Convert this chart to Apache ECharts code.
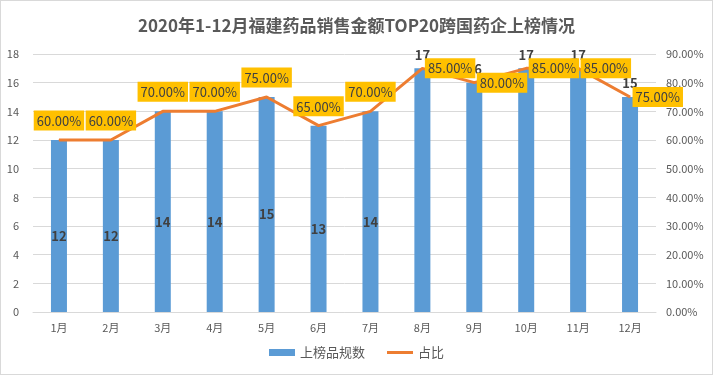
<!DOCTYPE html>
<html>
<head>
<meta charset="utf-8">
<script src="https://cdn.jsdelivr.net/npm/echarts@6/dist/echarts.min.js"></script>
<style>
  html, body { margin: 0; padding: 0; background: #fff; }
  #chart { width: 711px; height: 373px; border: 1px solid #d9d9d9; }
</style>
</head>
<body>
<div id="chart"></div>
<script>
// 数据
const months = ['1月', '2月', '3月', '4月', '5月', '6月', '7月', '8月', '9月', '10月', '11月', '12月']
const listedCounts = [12, 12, 14, 14, 15, 13, 14, 17, 16, 17, 17, 15]
const shareRatio = [0.60, 0.60, 0.70, 0.70, 0.75, 0.65, 0.70, 0.85, 0.80, 0.85, 0.85, 0.75]

const FONT = '"Noto Sans CJK SC", "Noto Sans", sans-serif'
const TEXT = '#595959'

const chart = echarts.init(document.getElementById('chart'), null, { renderer: 'canvas' })

// 前7个月数值放在柱内，后5个月放在柱顶
const barData = listedCounts.map((v, i) => ({
  value: v,
  label: i < 7 ? { position: 'inside', offset: [0, 10] } : { position: 'top', offset: [0, -2] }
}))

// 占比标签：前7个在上方，后5个在右侧
const lineData = shareRatio.map((v, i) => ({
  value: v,
  label: i < 7 ? { position: 'top', distance: 9 } : { position: 'right', distance: 2 }
}))

const option = {
  textStyle: { fontFamily: FONT },
  title: {
    text: '2020年1-12月福建药品销售金额TOP20跨国药企上榜情况',
    left: 'center',
    top: 11,
    textStyle: { fontSize: 17, fontWeight: 'bold', color: TEXT, fontFamily: FONT }
  },
  legend: {
    bottom: 10,
    left: 'center',
    itemGap: 22,
    itemWidth: 26,
    itemHeight: 7,
    textStyle: { fontSize: 13, color: TEXT, fontFamily: FONT },
    data: [
      { name: '上榜品规数', icon: 'rect' },
      { name: '占比', icon: 'path://M0,4 L26,4 L26,7 L0,7 Z' }
    ]
  },
  grid: { left: 32, right: 56, top: 53, bottom: 62 },
  xAxis: {
    type: 'category',
    data: months,
    axisTick: { show: false },
    axisLine: { lineStyle: { color: '#d9d9d9' } },
    axisLabel: { color: TEXT, fontSize: 11, margin: 10 }
  },
  yAxis: [
    {
      type: 'value',
      min: 0,
      max: 18,
      interval: 2,
      axisLine: { show: false },
      axisTick: { show: false },
      axisLabel: { color: TEXT, fontSize: 11, margin: 14 },
      splitLine: { lineStyle: { color: '#d9d9d9' } }
    },
    {
      type: 'value',
      min: 0,
      max: 0.9,
      interval: 0.1,
      axisLine: { show: false },
      axisTick: { show: false },
      splitLine: { show: false },
      axisLabel: {
        color: TEXT,
        fontSize: 11,
        margin: 10,
        formatter: (v) => (v * 100).toFixed(2) + '%'
      }
    }
  ],
  series: [
    {
      name: '上榜品规数',
      type: 'bar',
      data: barData,
      barWidth: 16,
      itemStyle: { color: '#5B9BD5' },
      z: 2,
      label: {
        show: true,
        color: '#404040',
        fontSize: 13,
        fontWeight: 'bold'
      }
    },
    {
      name: '占比',
      type: 'line',
      yAxisIndex: 1,
      data: lineData,
      symbol: 'circle',
      symbolSize: 1,
      showSymbol: true,
      lineStyle: { color: '#ED7D31', width: 3 },
      itemStyle: { color: '#ED7D31' },
      z: 5,
      label: {
        show: true,
        formatter: (p) => (p.value * 100).toFixed(2) + '%',
        color: '#404040',
        fontSize: 13,
        textBorderWidth: 0,
        textBorderColor: 'transparent',
        borderWidth: 0,
        borderColor: 'transparent',
        backgroundColor: '#FFC000',
        padding: [4, 3, 3, 3]
      }
    }
  ]
}

chart.setOption(option)
</script>
</body>
</html>
